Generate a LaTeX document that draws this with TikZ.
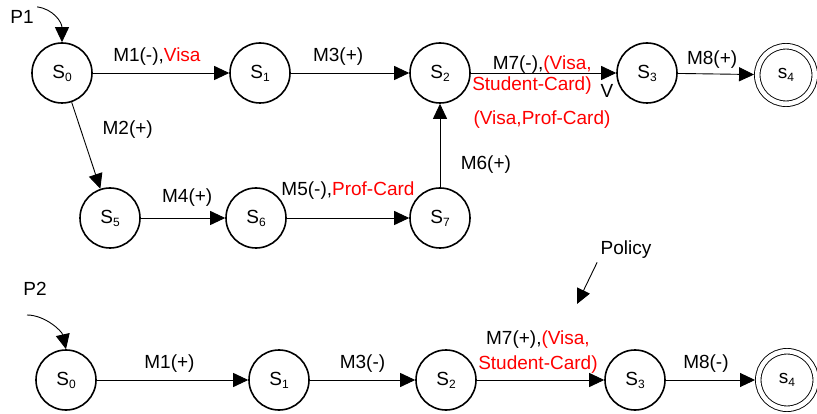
\documentclass[tikz,border=0pt]{standalone}
\usepackage{fontspec}
\setmainfont{Liberation Sans}
\usetikzlibrary{arrows.meta,positioning}

\definecolor{policyred}{RGB}{255,0,0}
\newcommand{\redtxt}[1]{\textcolor{policyred}{#1}}
\newcommand{\sidx}[2][12]{\raisebox{-3pt}{\fontsize{#1}{#1}\selectfont #2}}

\begin{document}
\begin{tikzpicture}[x=1pt, y=-1pt, >={Triangle[length=15pt,width=14pt]}, font=\fontsize{19}{22}\selectfont]
        \tikzset{state/.style={circle, draw, line width=1.6pt, minimum size=60pt, inner sep=0pt}, final/.style={circle, draw, double, double distance=4.6pt, line width=0.9pt, minimum size=57.5pt, inner sep=0pt, outer sep=3.2pt}, trans/.style={->, line width=0.9pt}}
        \useasboundingbox (0,0) rectangle (817,414);
        % path P1
        \node (p1) at (22,17) {P1};
        \node[state] (s0a) at (62,73) {S\sidx{0}};
        \node[state] (s1a) at (260,73) {S\sidx{1}};
        \node[state] (s2a) at (440,73) {S\sidx{2}};
        \node[state] (s3a) at (647,73) {S\sidx{3}};
        \node[final] (s4a) at (786,75) {s\sidx{4}};
        \node[state] (s5a) at (110,218) {S\sidx{5}};
        \node[state] (s6a) at (256,218) {S\sidx{6}};
        \node[state] (s7a) at (440,218) {S\sidx{7}};
        \node (orsym) at (607,91) {V};
        \node (altcard) at (542,120) {\redtxt{(Visa,Prof-Card)}};
        \draw[trans] (p1.north east) .. controls +(16,2) and +(0,-20) .. (s0a.north);
        \draw[trans] (s0a) -- node[pos=0.47, above=4pt] {M1(-),\redtxt{Visa}} (s1a);
        \draw[trans] (s1a) -- node[pos=0.4, above=4pt] {M3(+)} (s2a);
        \draw[trans] (s2a) -- node[pos=0.857, anchor=east, yshift=-2pt, align=right, font=\fontsize{19}{21.5}\selectfont] {M7(-),\redtxt{(Visa,}\\\redtxt{Student-Card)}} (s3a);
        \draw[trans] (s3a) -- node[pos=0.45, above=2pt] {M8(+)} (s4a);
        \draw[trans] (s0a) -- node[pos=0.32, right=18pt] {M2(+)} (s5a);
        \draw[trans] (s5a) -- node[pos=0.55, above=8pt] {M4(+)} (s6a);
        \draw[trans] (s6a) -- node[pos=0.5, above=15pt] {M5(-),\redtxt{Prof-Card}} (s7a);
        \draw[trans] (s7a) -- node[pos=0.27, right=17pt] {M6(+)} (s2a);
        % path P2
        \node (p2) at (35,289) {P2};
        \coordinate (p2tail) at (27,315);
        \node (policy) at (626,250) {Policy};
        \coordinate (policytip) at (577,304);
        \node[state] (s0b) at (66,380) {S\sidx{0}};
        \node[state] (s1b) at (279,380) {S\sidx{1}};
        \node[state] (s2b) at (446,380) {S\sidx{2}};
        \node[state] (s3b) at (635,380) {S\sidx{3}};
        \node[final] (s4b) at (787,380) {s\sidx{4}};
        \draw[trans] (p2tail) .. controls +(18,0) and +(-4,-18) .. (s0b.north);
        \draw[trans] (policy.south west) -- (policytip);
        \draw[trans] (s0b) -- node[pos=0.48, above=4pt] {M1(+)} (s1b);
        \draw[trans] (s1b) -- node[pos=0.5, above=4pt] {M3(-)} (s2b);
        \draw[trans] (s2b) -- node[pos=0.48, above=3pt, align=center, font=\fontsize{19}{25}\selectfont] {M7(+),\redtxt{(Visa,}\\\redtxt{Student-Card)}} (s3b);
        \draw[trans] (s3b) -- node[pos=0.45, above=4pt] {M8(-)} (s4b);
    \end{tikzpicture}
\end{document}
